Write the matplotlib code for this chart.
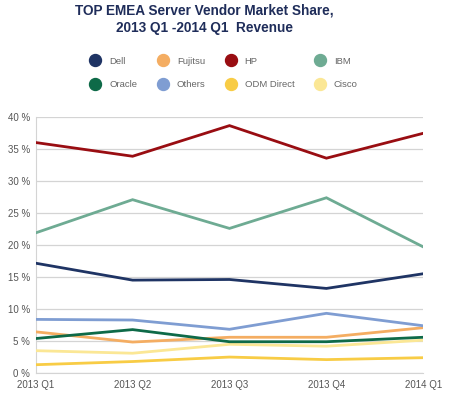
import matplotlib
matplotlib.use("Agg")
import matplotlib.pyplot as plt
from matplotlib.lines import Line2D

quarters = ["2013 Q1", "2013 Q2", "2013 Q3", "2013 Q4", "2014 Q1"]
vendors = ["Dell", "Fujitsu", "HP", "IBM", "Oracle", "Others", "ODM Direct", "Cisco"]
colors = ["#1f3464", "#f4ad62", "#990d12", "#6eab93", "#0e6a48", "#7f9dd2", "#f8cc45", "#fbe795"]

dell = [17.15, 14.5, 14.6, 13.2, 15.5]
fujitsu = [6.4, 4.8, 5.55, 5.55, 7.05]
hp = [36.05, 33.9, 38.7, 33.6, 37.5]
ibm = [21.9, 27.1, 22.6, 27.4, 19.7]
oracle = [5.35, 6.75, 4.85, 4.85, 5.55]
others = [8.35, 8.25, 6.8, 9.3, 7.35]
odm = [1.25, 1.75, 2.45, 2.05, 2.35]
cisco = [3.45, 3.05, 4.45, 4.15, 5.1]
series = [dell, fujitsu, hp, ibm, oracle, others, odm, cisco]

y_ticks = [0, 5, 10, 15, 20, 25, 30, 35, 40]

plt.rcParams["font.family"] = ["Liberation Sans", "DejaVu Sans"]
fig = plt.figure(figsize=(4.5, 3.97), dpi=100)
ax = fig.add_axes([0.0793, 0.0612, 0.8614, 0.6433])

x = list(range(len(quarters)))
draw_order = [7, 6, 1, 4, 5, 0, 3, 2]  # lighter/lower lines first
for i in draw_order:
    ax.plot(x, series[i], color=colors[i], lw=2.0, solid_joinstyle="miter", zorder=3)

ax.set_xlim(0, len(quarters) - 1)
ax.set_ylim(0, 40)
ax.set_xticks(x)
ax.set_xticklabels(quarters)
ax.set_yticks(y_ticks)
ax.set_yticklabels([f"{v} %" for v in y_ticks])
ax.tick_params(length=0, labelsize=7, colors="#555555")
ax.tick_params(axis="y", pad=4)
ax.tick_params(axis="x", pad=5)
ax.grid(axis="y", color="#d4d4d4", lw=0.9, zorder=0)
for side in ["top", "right"]:
    ax.spines[side].set_visible(False)
ax.spines["left"].set_color("#d4d4d4")
ax.spines["bottom"].set_color("#d4d4d4")

fig.text(0.454, 0.951, "TOP EMEA Server Vendor Market Share,\n2013 Q1 -2014 Q1  Revenue",
         ha="center", va="center", fontsize=9.8, fontweight="bold", color="#1f2d5a",
         linespacing=1.35)

# legend: ncol=4, filled column-major, so reorder to rows Dell/Fujitsu/HP/IBM and Oracle/Others/ODM/Cisco
order = [0, 4, 1, 5, 2, 6, 3, 7]
handles = [Line2D([], [], ls="none", marker="o", ms=8.6, color=colors[i]) for i in order]
labels = [vendors[i] for i in order]
leg = fig.legend(handles, labels, ncol=4, loc="center", bbox_to_anchor=(0.497, 0.816),
                 frameon=False, fontsize=6.8, labelcolor="#666666", handletextpad=0.9,
                 columnspacing=2.05, labelspacing=1.55, handlelength=1.2)

fig.savefig("out.png", dpi=100, facecolor="white")
